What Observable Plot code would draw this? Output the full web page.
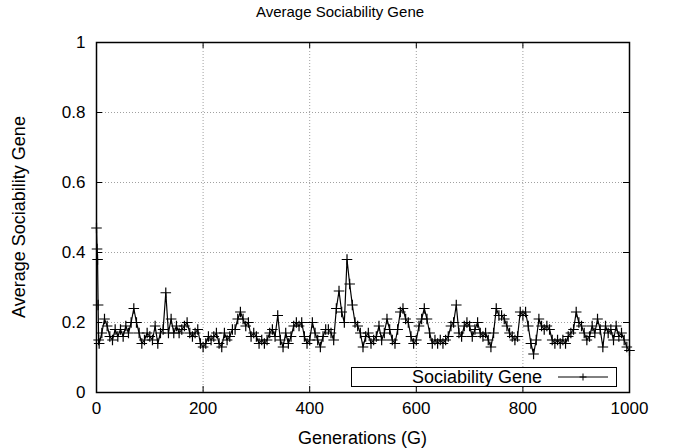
<!DOCTYPE html>
<html><head><meta charset="utf-8">
<script src="https://cdn.jsdelivr.net/npm/d3@7"></script>
<script src="https://cdn.jsdelivr.net/npm/@observablehq/plot@0.6"></script>
<style>
body{margin:0;background:#fff;}
#wrap{position:relative;width:680px;height:448px;font-family:"Liberation Sans",Arial,sans-serif;color:#000;overflow:hidden;}
#wrap > svg{position:absolute;left:0;top:0;}
.t{position:absolute;font-size:18px;line-height:20px;white-space:nowrap;}
#title{left:0;width:680px;top:2px;text-align:center;font-size:15px;}
#xlab{left:96px;width:533px;top:428px;text-align:center;}
#ylab{left:19px;top:217px;transform:translate(-50%,-50%) rotate(-90deg);}
#legend{position:absolute;left:351px;top:367px;width:264px;height:18px;border:1.5px solid #000;background:#fff;}
#legtext{position:absolute;right:74px;top:-1px;font-size:18px;line-height:20px;white-space:nowrap;}
#wrap #legsvg{position:absolute;left:206px;top:0;}
</style></head><body>
<div id="wrap">
<div id="title" class="t"></div>
<div id="xlab" class="t"></div>
<div id="ylab" class="t"></div>
</div>
<script>
const titleText = "Average Sociability Gene";
const xLabelText = "Generations (G)";
const yLabelText = "Average Sociability Gene";
const seriesName = "Sociability Gene";
const xTicks = [0, 200, 400, 600, 800, 1000];
const yTicks = [0, 0.2, 0.4, 0.6, 0.8, 1];

const startGens = [0, 1, 2, 3, 4];
const startValues = [0.47, 0.41, 0.38, 0.25, 0.15];
const stepGens = d3.range(5, 1001, 5);
const stepValues = [
  0.14, 0.17, 0.21, 0.19, 0.16, 0.15, 0.18, 0.16, 0.18, 0.16,
  0.19, 0.17, 0.20, 0.24, 0.20, 0.17, 0.14, 0.15, 0.17, 0.16,
  0.15, 0.19, 0.14, 0.17, 0.18, 0.285, 0.17, 0.21, 0.17, 0.19,
  0.17, 0.18, 0.19, 0.20, 0.17, 0.16, 0.17, 0.18, 0.14, 0.13,
  0.14, 0.16, 0.15, 0.16, 0.17, 0.14, 0.13, 0.17, 0.15, 0.16,
  0.18, 0.18, 0.21, 0.23, 0.21, 0.19, 0.20, 0.16, 0.17, 0.16,
  0.14, 0.15, 0.14, 0.15, 0.17, 0.18, 0.16, 0.22, 0.15, 0.13,
  0.17, 0.14, 0.16, 0.19, 0.20, 0.19, 0.20, 0.16, 0.14, 0.15,
  0.20, 0.17, 0.15, 0.13, 0.16, 0.18, 0.18, 0.17, 0.15, 0.24,
  0.29, 0.23, 0.20, 0.38, 0.31, 0.25, 0.20, 0.19, 0.17, 0.13,
  0.16, 0.17, 0.14, 0.15, 0.16, 0.19, 0.15, 0.17, 0.21, 0.18,
  0.15, 0.14, 0.18, 0.23, 0.24, 0.21, 0.20, 0.16, 0.14, 0.15,
  0.19, 0.21, 0.24, 0.21, 0.17, 0.14, 0.15, 0.14, 0.15, 0.14,
  0.15, 0.16, 0.19, 0.20, 0.25, 0.17, 0.16, 0.19, 0.20, 0.19,
  0.16, 0.18, 0.20, 0.17, 0.16, 0.17, 0.15, 0.13, 0.17, 0.24,
  0.22, 0.22, 0.21, 0.19, 0.17, 0.16, 0.15, 0.16, 0.23, 0.22,
  0.23, 0.19, 0.14, 0.11, 0.15, 0.21, 0.19, 0.18, 0.19, 0.18,
  0.15, 0.14, 0.15, 0.14, 0.15, 0.14, 0.16, 0.17, 0.18, 0.23,
  0.20, 0.19, 0.17, 0.15, 0.16, 0.19, 0.17, 0.21, 0.18, 0.13,
  0.19, 0.17, 0.18, 0.15, 0.19, 0.16, 0.17, 0.15, 0.13, 0.12
];
const gens = startGens.concat(stepGens);
const values = startValues.concat(stepValues);
const data = gens.map((g, i) => ({g, v: values[i]}));

const W = 680, H = 448, mL = 96, mR = 51, mT = 42, mB = 56;
const plotW = W - mL - mR, plotH = H - mT - mB;
const gridStyle = {stroke: "#a0a0a0", strokeDasharray: "1,2", strokeWidth: 1};

const chart = Plot.plot({
  width: W, height: H,
  marginLeft: mL, marginRight: mR, marginTop: mT, marginBottom: mB,
  style: {fontFamily: '"Liberation Sans", Arial, sans-serif', fontSize: "17px", color: "#000", background: "transparent"},
  x: {domain: [0, 1000]},
  y: {domain: [0, 1]},
  marks: [
    Plot.ruleX(xTicks.slice(1, -1), gridStyle),
    Plot.ruleY(yTicks.slice(1, -1), gridStyle),
    Plot.ruleX(xTicks, {stroke: "#000", insetTop: plotH - 6}),
    Plot.ruleX(xTicks, {stroke: "#000", insetBottom: plotH - 6}),
    Plot.ruleY(yTicks, {stroke: "#000", insetRight: plotW - 6}),
    Plot.ruleY(yTicks, {stroke: "#000", insetLeft: plotW - 6}),
    Plot.line(data, {x: "g", y: "v", stroke: "#000", strokeWidth: 1.2}),
    Plot.dot(data, {x: "g", y: "v", symbol: "plus", r: 3.5, stroke: "#000", strokeWidth: 1.2}),
    Plot.frame({stroke: "#000", strokeWidth: 1.5}),
    Plot.axisX({ticks: xTicks, tickSize: 0, tickPadding: 9, tickFormat: d => String(d), label: null}),
    Plot.axisY({ticks: yTicks, tickSize: 0, tickPadding: 11, tickFormat: d => String(d), label: null})
  ]
});
const wrap = document.getElementById("wrap");
wrap.insertBefore(chart, wrap.firstChild);
document.getElementById("title").textContent = titleText;
document.getElementById("xlab").textContent = xLabelText;
document.getElementById("ylab").textContent = yLabelText;

const legend = document.createElement("div");
legend.id = "legend";
const lt = document.createElement("div");
lt.id = "legtext";
lt.textContent = seriesName;
legend.appendChild(lt);
const ls = d3.create("svg").attr("id", "legsvg").attr("width", 58).attr("height", 18);
ls.append("line").attr("x1", 0).attr("x2", 50).attr("y1", 9).attr("y2", 9).attr("stroke", "#000");
ls.append("path").attr("d", "M21.5,9h7M25,5.5v7").attr("stroke", "#000");
legend.appendChild(ls.node());
wrap.appendChild(legend);
</script>
</body></html>
